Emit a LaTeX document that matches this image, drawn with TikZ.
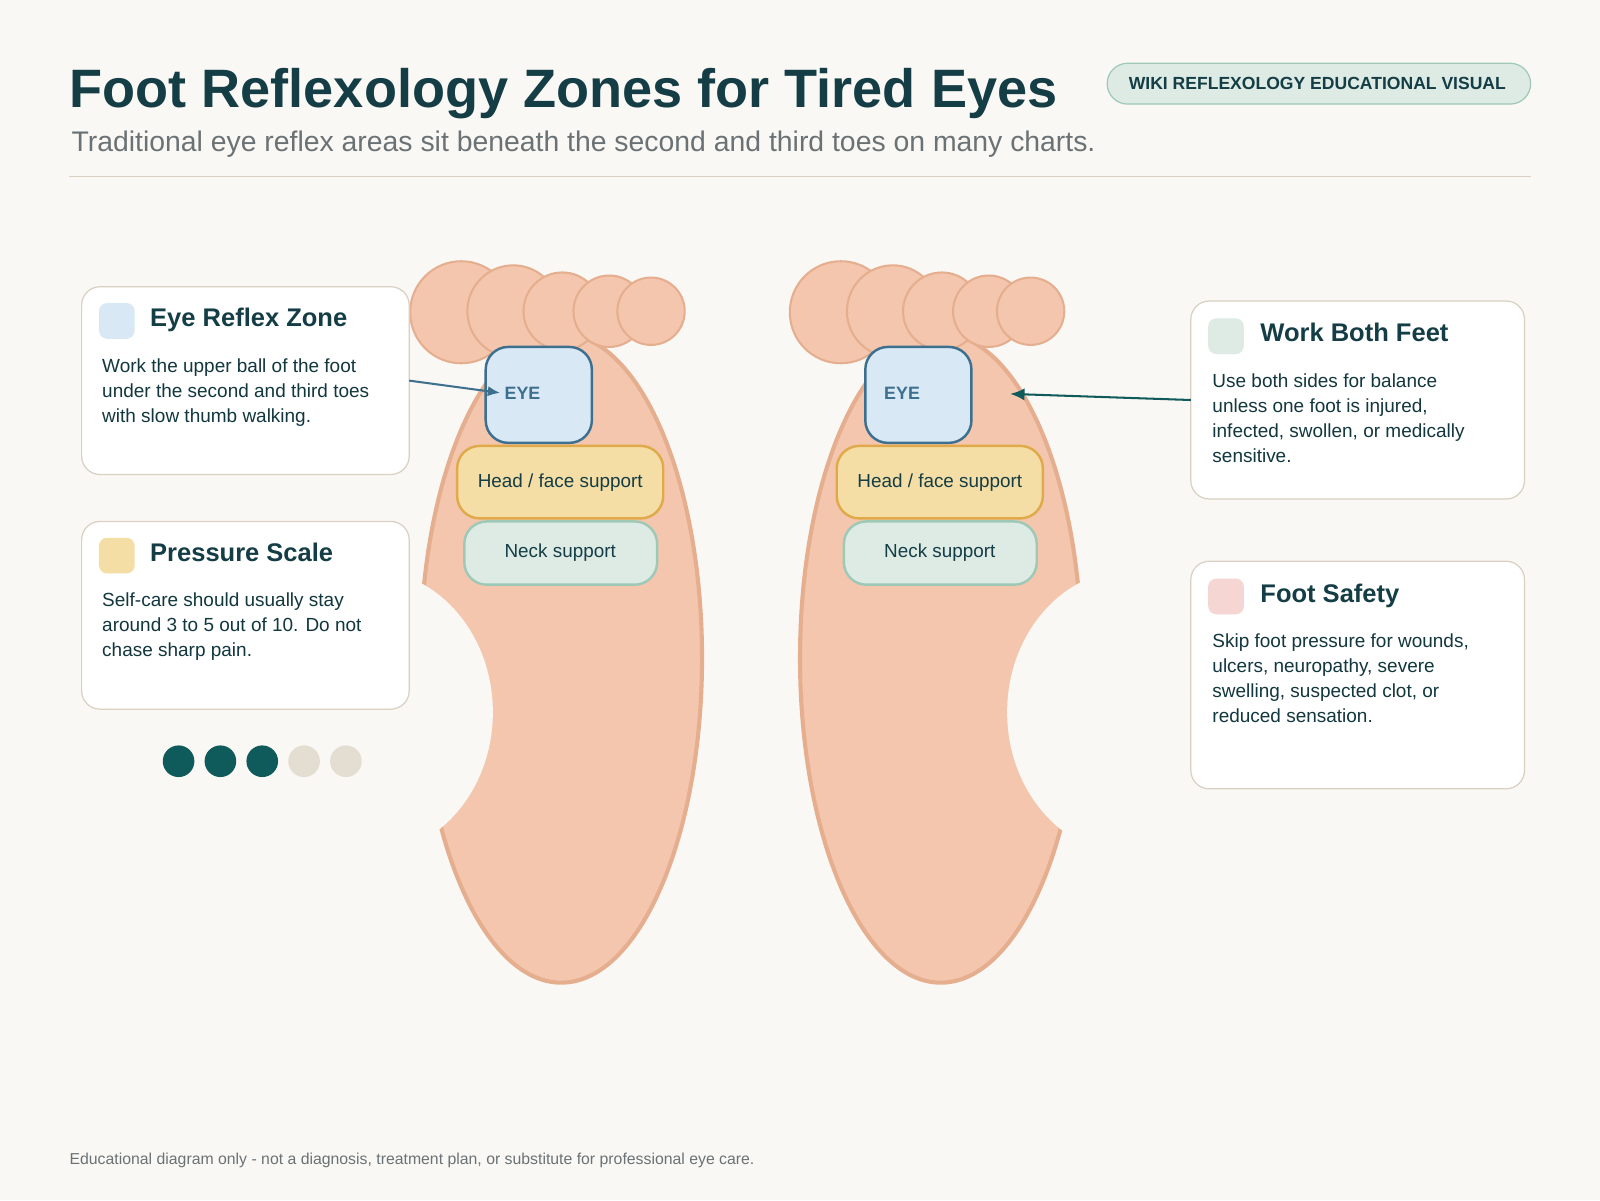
\documentclass[tikz,border=0pt]{standalone}
\usepackage{fontspec}
\usetikzlibrary{arrows.meta}
\setmainfont{Liberation Sans}
\definecolor{bg}{HTML}{FAF8F4}
\definecolor{ink}{HTML}{143D45}
\definecolor{grayt}{HTML}{6B7275}
\definecolor{skin}{HTML}{F3C6AD}
\definecolor{skinline}{HTML}{E5AE8E}
\definecolor{eyef}{HTML}{D8E8F4}
\definecolor{eyel}{HTML}{3D6F8F}
\definecolor{headf}{HTML}{F4DEA6}
\definecolor{headl}{HTML}{E0AA4A}
\definecolor{neckf}{HTML}{DEEBE5}
\definecolor{neckl}{HTML}{9FC9B7}
\definecolor{cardl}{HTML}{D9D0C2}
\definecolor{teal}{HTML}{0F5A5A}
\definecolor{pinkf}{HTML}{F5D6D3}
\definecolor{dotoff}{HTML}{E4DDD2}
\tikzset{
 card/.style={draw=cardl,line width=1.2pt,fill=white,rounded corners=18pt},
 icon/.style={rounded corners=8pt},
 ctitle/.style={anchor=base west,text=ink,font=\fontsize{25}{28}\selectfont\bfseries,inner sep=0},
 cbody/.style={anchor=north west,text=ink!90!black,font=\fontsize{18.6}{24.5}\selectfont,align=left,inner sep=0},
 zone/.style={rounded corners=22pt,line width=2.4pt},
 ztext/.style={text=ink,font=\fontsize{18.5}{20}\selectfont},
 toe/.style={fill=skin,draw=skinline,line width=2pt},
 pdot/.style={circle,minimum size=31pt,inner sep=0},
}
\begin{document}
\begin{tikzpicture}[x=1pt,y=-1pt]
\fill[bg] (0,0) rectangle (1568,1176);
\useasboundingbox (0,0) rectangle (1568,1176);
\node[anchor=base west,inner sep=0,text=ink,font=\fontsize{53}{60}\selectfont\bfseries] (title) at (68,105) {Foot Reflexology Zones for Tired Eyes};
\node[anchor=base west,inner sep=0,text=grayt,font=\fontsize{27.8}{30}\selectfont] (sub) at (70,148) {Traditional eye reflex areas sit beneath the second and third toes on many charts.};
\draw[cardl,line width=1.5pt] (68,173) -- (1500,173);
\draw[fill=neckf,draw=neckl,line width=1.2pt,rounded corners=20pt] (1085,62) rectangle (1500,102);
\node[text=ink,font=\fontsize{17.2}{20}\selectfont\bfseries] (badge) at (1291,82) {WIKI REFLEXOLOGY EDUCATIONAL VISUAL};
% feet
\foreach \dx/\nm in {0/L,372/R}{
 \begin{scope}[xshift=\dx]
 \fill[skin] (550,645) ellipse[x radius=138,y radius=318];
 \draw[skinline,line width=4pt] (550,645) ellipse[x radius=138,y radius=318];
 \end{scope}
}
\fill[bg] (360,698) ellipse[x radius=123,y radius=140];
\fill[bg] (1110,698) ellipse[x radius=123,y radius=140];
\foreach \dx in {0,372}{
 \begin{scope}[xshift=\dx]
 \draw[toe] (452,306) circle (50);
 \draw[toe] (503,305) circle (45);
 \draw[toe] (551,305) circle (38);
 \draw[toe] (597,305) circle (35);
 \draw[toe] (638,305) circle (33);
 \end{scope}
}
\foreach \dx/\nm in {0/L,372/R}{
 \draw[zone,fill=eyef,draw=eyel] (476+\dx,340) rectangle (580+\dx,434);
 \node[text=eyel,font=\fontsize{17.5}{20}\selectfont\bfseries] (eye\nm) at (512+\dx,385) {EYE};
 \draw[zone,fill=headf,draw=headl] (448+\dx,437) rectangle (650+\dx,508);
 \node[ztext] (head\nm) at (549+\dx,473) {Head / face support};
 \draw[zone,fill=neckf,draw=neckl] (455+\dx,511) rectangle (644+\dx,573);
 \node[ztext] (neck\nm) at (549+\dx,542) {Neck support};
}
% cards
\draw[card] (80,281) rectangle (401,465);
\fill[eyef,icon] (97,297) rectangle (132,332);
\node[ctitle] (t1) at (147,320) {Eye Reflex Zone};
\node[cbody] (b1) at (100,351) {Work the upper ball of the foot\\under the second and third toes\\with slow thumb walking.};
\coordinate (c1) at (401,373);
\draw[card] (80,511) rectangle (401,695);
\fill[headf,icon] (97,527) rectangle (132,562);
\node[ctitle] (t2) at (147,550) {Pressure Scale};
\node[cbody] (b2) at (100,581) {Self-care should usually stay\\around 3 to 5 out of 10. Do not\\chase sharp pain.};
\draw[card] (1167,295) rectangle (1494,489);
\fill[neckf,icon] (1184,312) rectangle (1219,347);
\node[ctitle] (t3) at (1235,335) {Work Both Feet};
\node[cbody] (b3) at (1188,366) {Use both sides for balance\\unless one foot is injured,\\infected, swollen, or medically\\sensitive.};
\coordinate (c3) at (1167,392);
\draw[card] (1167,550) rectangle (1494,773);
\fill[pinkf,icon] (1184,567) rectangle (1219,602);
\node[ctitle] (t4) at (1235,590) {Foot Safety};
\node[cbody] (b4) at (1188,621) {Skip foot pressure for wounds,\\ulcers, neuropathy, severe\\swelling, suspected clot, or\\reduced sensation.};
\coordinate (eL) at (490,385);
\coordinate (eR) at (990,386);
\draw[eyel,line width=2pt,-{Latex[length=12pt,width=10pt]}] (c1) -- (eL);
\draw[teal,line width=2pt,-{Latex[length=14pt,width=12pt]}] (c3) -- (eR);
% dots
\node[pdot,fill=teal] (d1) at (175,746) {};
\node[pdot,fill=teal] (d2) at (216,746) {};
\node[pdot,fill=teal] (d3) at (257,746) {};
\node[pdot,fill=dotoff] (d4) at (298,746) {};
\node[pdot,fill=dotoff] (d5) at (339,746) {};
\node[anchor=base west,inner sep=0,text=grayt,font=\fontsize{15.5}{18}\selectfont] (foot) at (68,1141) {Educational diagram only - not a diagnosis, treatment plan, or substitute for professional eye care.};
\end{tikzpicture}
\end{document}
